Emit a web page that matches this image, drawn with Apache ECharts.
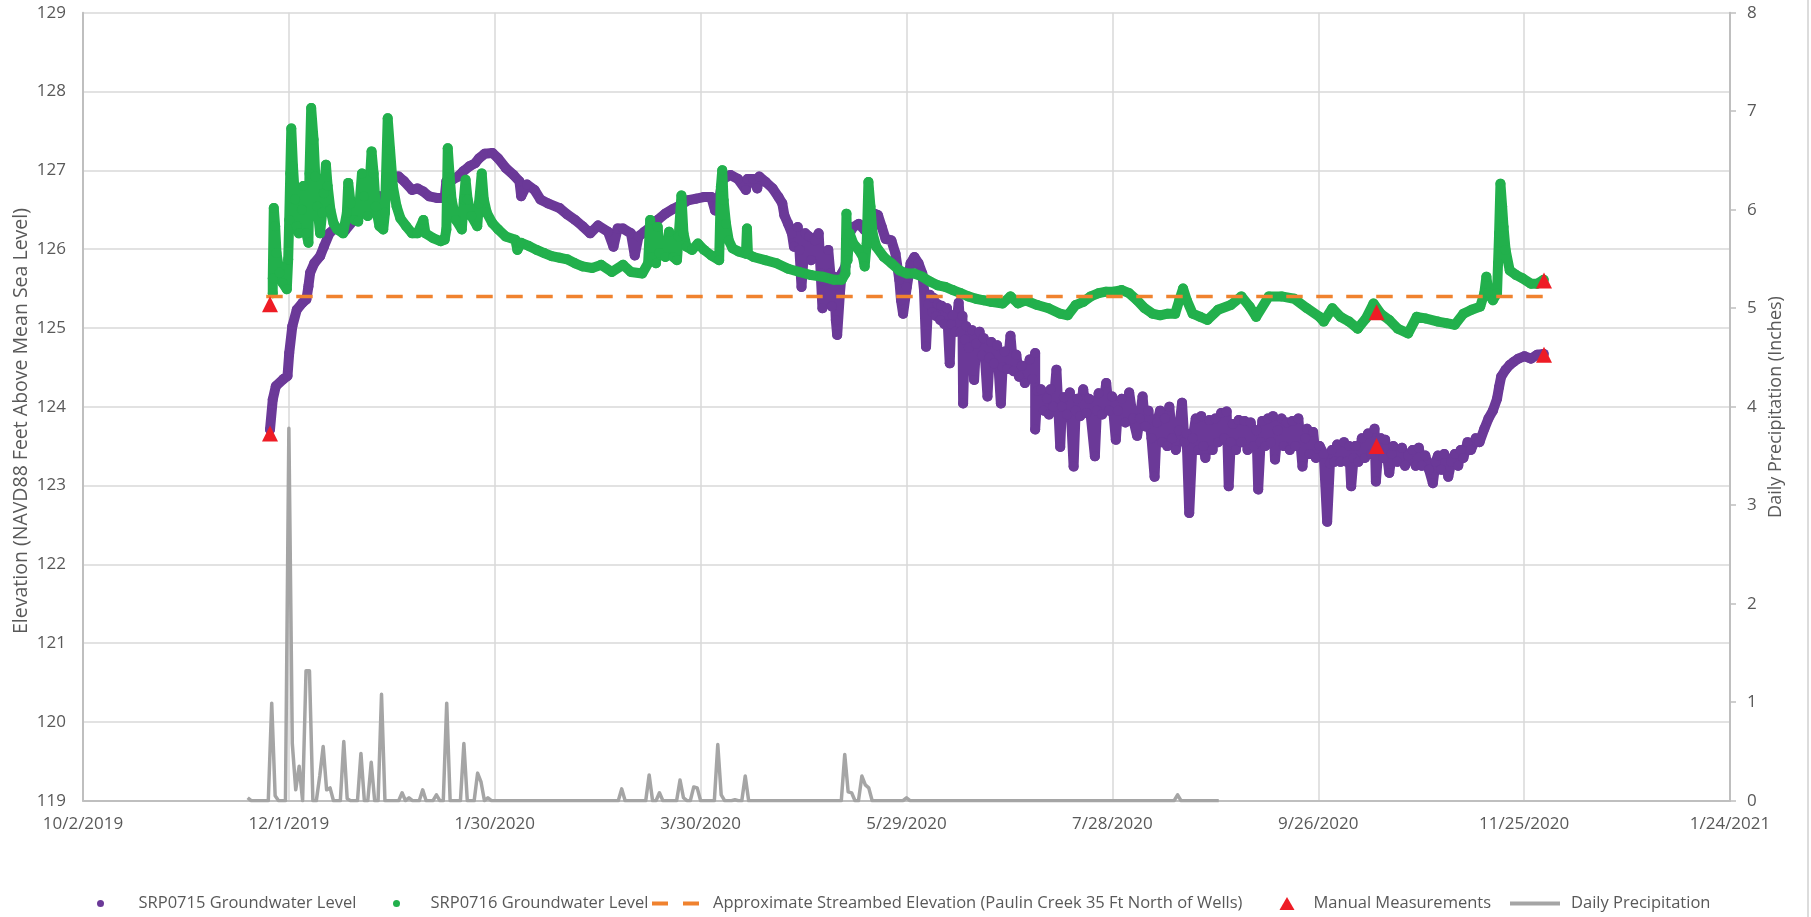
<!DOCTYPE html>
<html>
<head>
<meta charset="utf-8">
<script src="https://cdn.jsdelivr.net/npm/echarts@6/dist/echarts.min.js"></script>
<style>
html,body{margin:0;padding:0;background:#ffffff;}
#chart{width:1811px;height:917px;}
</style>
</head>
<body>
<div id="chart"></div>
<script>
// x values are days after 10/2/2019
const xTickLabels = ['10/2/2019','12/1/2019','1/30/2020','3/30/2020','5/29/2020','7/28/2020','9/26/2020','11/25/2020','1/24/2021'];
const leftTicks = [119,120,121,122,123,124,125,126,127,128,129];
const rightTicks = [0,1,2,3,4,5,6,7,8];
const leftTitle = 'Elevation (NAVD88 Feet Above Mean Sea Level)';
const rightTitle = 'Daily Precipitation (Inches)';

// SRP0715 groundwater level: [day, elevation ft]
const srp0715 = [
[54.5,123.71],[55.3,124.09],[56.2,124.26],[58.4,124.35],[59.6,124.39],[60.1,124.68],[61.0,125.02],[62.3,125.23],
[64.0,125.32],[65.1,125.36],[65.7,125.53],[66.2,125.70],[67.4,125.82],[69.1,125.91],[70.2,126.03],[71.8,126.20],
[73.5,126.27],[76.3,126.23],[78.5,126.35],[80.2,126.42],[81.9,126.54],[84.1,126.65],[86.4,126.67],[88.0,126.63],
[88.6,126.80],[90.3,126.92],[92.0,126.92],[93.6,126.86],[95.9,126.75],[97.5,126.77],[99.2,126.73],[100.9,126.67],
[103.1,126.65],[105.4,126.65],[105.9,126.86],[107.6,126.88],[109.3,126.92],[110.9,126.99],[112.6,127.05],[114.3,127.09],
[115.4,127.15],[117.1,127.21],[119.3,127.22],[121.0,127.15],[123.2,127.03],[125.5,126.94],[127.2,126.86],[127.7,126.67],
[129.4,126.82],[131.6,126.75],[133.3,126.63],[135.5,126.58],[138.9,126.52],[141.1,126.44],[143.4,126.37],[145.6,126.29],
[147.8,126.20],[150.1,126.30],[153.0,126.22],[154.6,126.03],[155.8,126.26],[157.4,126.26],[159.7,126.20],[160.8,125.92],
[161.9,126.16],[163.6,126.22],[165.3,126.28],[167.5,126.37],[169.7,126.45],[172.0,126.51],[174.2,126.56],[176.4,126.62],
[178.7,126.64],[180.9,126.66],[183.1,126.66],[184.2,126.49],[185.0,126.55],[186.5,126.89],[188.7,126.94],[190.9,126.89],
[193.2,126.75],[193.7,126.89],[195.4,126.89],[196.5,126.77],[197.1,126.92],[199.0,126.85],[201.0,126.77],[202.7,126.66],
[203.8,126.58],[204.4,126.43],[205.5,126.32],[206.6,126.20],[207.2,126.03],[208.3,126.28],[208.8,125.99],[209.4,125.52],
[210.5,126.20],[211.6,126.16],[212.2,125.86],[213.3,126.11],[214.4,126.20],[215.0,125.69],[215.5,125.25],[216.0,125.60],
[217.2,125.99],[217.8,125.69],[218.3,125.27],[218.9,125.65],[219.4,125.10],[219.8,124.91],[220.6,125.44],[221.1,125.69],
[222.2,125.78],[223.4,126.20],[224.5,126.28],[226.1,126.32],[227.8,126.24],[228.9,126.37],[230.6,126.45],[231.7,126.43],
[232.8,126.28],[233.9,126.13],[235.6,126.11],[236.8,125.94],[237.9,125.61],[238.4,125.35],[239.0,125.18],[240.1,125.52],
[241.2,125.82],[242.3,125.90],[243.5,125.82],[244.6,125.69],[245.1,125.48],[245.7,124.76],[246.3,125.30],[246.8,125.42],
[247.5,125.20],[247.9,125.38],[248.6,125.15],[249.1,125.30],[249.8,125.10],[250.2,125.28],[251.0,125.05],[251.8,125.25],
[252.6,124.55],[253.0,125.05],[253.5,125.16],[254.3,124.95],[255.2,125.32],[255.8,124.95],[256.3,125.15],[256.5,124.04],
[257.0,124.85],[257.4,125.02],[258.2,124.75],[259.1,124.97],[259.7,124.34],[260.3,124.80],[261.3,124.95],[262.0,124.65],
[262.5,124.87],[263.6,124.13],[264.2,124.62],[264.7,124.82],[265.5,124.55],[266.4,124.78],[267.5,124.04],[268.0,124.50],
[268.6,124.70],[269.4,124.48],[270.3,124.90],[271.2,124.45],[272.0,124.66],[272.8,124.38],[273.6,124.52],[274.5,124.30],
[275.9,124.60],[276.7,124.35],[277.5,124.68],[277.5,123.71],[278.2,124.20],[279.2,124.22],[280.0,123.95],[280.9,124.10],
[281.5,123.90],[282.0,124.22],[282.8,124.00],[283.7,124.47],[284.8,123.49],[285.3,124.00],[285.9,124.12],[286.8,123.90],
[287.6,124.18],[288.7,123.24],[289.3,123.95],[289.8,124.10],[290.6,123.88],[291.5,124.22],[292.4,123.92],[293.2,124.10],
[294.9,123.37],[295.5,123.95],[296.0,124.17],[297.0,123.90],[298.2,124.30],[299.0,123.95],[299.9,124.13],[301.0,123.58],
[301.6,123.95],[302.7,124.10],[303.8,123.80],[304.9,124.18],[306.0,123.85],[307.2,123.63],[308.0,123.85],[308.8,124.13],
[309.6,123.75],[310.5,123.95],[311.4,123.60],[312.3,123.11],[313.0,123.80],[313.9,123.95],[314.5,123.55],[315.3,123.85],
[316.0,123.50],[316.6,124.00],[317.4,123.60],[318.5,123.45],[319.4,123.70],[320.3,124.05],[321.0,123.55],[321.6,123.66],
[322.4,122.65],[323.4,123.60],[324.3,123.85],[325.0,123.45],[325.9,123.88],[326.5,123.50],[327.1,123.35],[328.3,123.83],
[329.2,123.45],[330.0,123.85],[330.8,123.55],[331.7,123.92],[332.6,123.60],[333.3,123.94],[333.9,122.99],[334.5,123.55],
[335.1,123.78],[336.0,123.45],[336.8,123.83],[337.6,123.55],[338.5,123.82],[339.4,123.45],[340.3,123.80],[341.2,123.50],
[342.0,123.70],[342.5,122.95],[343.2,123.55],[343.7,123.82],[344.5,123.50],[345.3,123.85],[346.2,123.55],[346.8,123.88],
[347.4,123.33],[348.2,123.70],[349.3,123.85],[350.0,123.50],[350.8,123.80],[351.7,123.45],[352.5,123.82],[353.3,123.50],
[354.2,123.85],[355.4,123.24],[356.2,123.60],[356.7,123.72],[357.5,123.40],[358.5,123.68],[359.3,123.35],[360.4,123.50],
[361.6,123.40],[362.6,122.54],[363.4,123.28],[364.0,123.45],[364.7,123.30],[365.5,123.52],[366.5,123.30],[367.5,123.55],
[368.4,123.30],[369.0,123.50],[369.6,122.99],[370.3,123.35],[370.8,123.50],[371.7,123.30],[372.7,123.60],[373.6,123.35],
[374.5,123.66],[375.4,123.40],[376.4,123.72],[376.8,123.05],[377.5,123.45],[378.2,123.60],[379.0,123.35],[379.5,123.58],
[380.7,123.16],[381.4,123.40],[381.9,123.50],[383.0,123.30],[384.4,123.48],[385.3,123.25],[386.2,123.38],[387.5,123.45],
[388.4,123.25],[389.3,123.48],[390.2,123.25],[391.2,123.38],[392.3,123.20],[393.4,123.03],[394.2,123.30],[394.9,123.38],
[395.8,123.20],[396.7,123.40],[397.9,123.11],[398.8,123.30],[399.8,123.40],[400.8,123.25],[401.5,123.45],[402.3,123.35],
[403.5,123.55],[404.5,123.45],[405.9,123.60],[407.0,123.55],[408.4,123.72],[409.6,123.85],[410.9,123.95],[412.1,124.10],
[412.7,124.25],[413.3,124.38],[414.6,124.47],[415.8,124.53],[417.0,124.57],[418.3,124.61],[420.1,124.64],[422.0,124.61],
[423.8,124.66],[425.7,124.67]
];

// SRP0716 groundwater level: [day, elevation ft]
const srp0716 = [
[55.3,125.44],[55.3,125.63],[55.6,126.52],[56.0,126.29],[56.4,125.95],[57.3,125.70],[58.2,125.57],[59.4,125.49],
[59.8,125.87],[60.1,126.37],[60.4,126.96],[60.7,127.53],[61.2,127.05],[61.8,126.63],[62.3,126.29],[62.9,126.20],
[63.8,126.50],[64.2,126.80],[65.1,126.20],[65.7,126.08],[66.0,126.96],[66.5,127.79],[67.2,127.39],[67.7,126.92],
[68.3,126.54],[69.1,126.20],[69.7,126.46],[70.2,126.71],[70.8,127.07],[71.3,126.80],[72.1,126.50],[73.0,126.33],
[74.1,126.25],[75.8,126.20],[76.9,126.46],[77.3,126.84],[78.0,126.58],[79.1,126.37],[80.2,126.35],[81.3,126.96],
[81.9,126.67],[83.0,126.42],[84.1,127.24],[84.7,126.96],[85.3,126.54],[86.4,126.29],[87.5,126.25],[88.0,126.46],
[88.8,127.66],[89.5,127.26],[90.3,126.80],[91.4,126.54],[92.5,126.39],[94.2,126.29],[95.9,126.20],[97.5,126.20],
[99.2,126.37],[99.8,126.20],[102.0,126.14],[104.2,126.10],[105.4,126.12],[105.9,126.25],[106.3,127.28],[106.8,126.96],
[107.4,126.63],[108.7,126.37],[110.4,126.25],[111.0,126.63],[111.5,126.88],[112.1,126.63],[113.2,126.42],[114.9,126.29],
[115.4,126.58],[116.2,126.96],[116.8,126.63],[117.7,126.46],[119.3,126.33],[121.0,126.25],[123.2,126.16],[126.0,126.12],
[126.6,125.99],[127.7,126.08],[129.9,126.04],[132.2,125.99],[134.4,125.95],[136.6,125.91],[138.9,125.89],[141.1,125.87],
[143.4,125.82],[145.6,125.78],[148.4,125.76],[151.0,125.80],[154.1,125.71],[157.4,125.80],[159.7,125.71],[163.0,125.69],
[164.7,125.82],[165.3,126.37],[165.8,125.90],[167.0,125.82],[167.5,126.28],[168.0,125.95],[169.7,125.90],[170.8,126.22],
[172.0,125.90],[173.1,125.86],[173.6,126.16],[174.4,126.68],[175.0,126.20],[175.9,126.03],[177.5,125.99],[179.2,126.07],
[181.0,125.99],[183.1,125.92],[185.4,125.86],[185.9,126.79],[186.3,127.00],[186.7,126.62],[187.4,126.32],[188.2,126.11],
[189.3,126.01],[191.0,125.97],[193.2,125.94],[193.5,126.26],[193.8,125.94],[195.4,125.90],[198.8,125.86],[202.1,125.82],
[205.5,125.75],[208.8,125.71],[212.2,125.67],[215.5,125.65],[218.9,125.61],[221.1,125.61],[222.2,125.69],[222.5,126.45],
[222.8,125.86],[223.4,126.20],[224.5,126.07],[226.1,125.99],[227.3,125.90],[227.8,125.78],[228.4,126.07],[228.9,126.85],
[229.5,126.54],[230.1,126.20],[231.2,126.03],[233.4,125.90],[235.6,125.82],[237.9,125.73],[240.1,125.69],[242.3,125.69],
[244.6,125.65],[246.8,125.59],[249.1,125.54],[251.3,125.52],[253.5,125.48],[255.8,125.44],[258.0,125.40],[260.2,125.37],
[262.5,125.35],[264.7,125.33],[268.0,125.31],[270.3,125.40],[272.5,125.31],[274.7,125.35],[278.1,125.29],[281.4,125.25],
[284.8,125.18],[287.0,125.16],[289.3,125.29],[291.5,125.33],[293.7,125.40],[296.0,125.44],[298.2,125.46],[300.4,125.46],
[302.7,125.48],[304.9,125.44],[307.2,125.35],[309.4,125.25],[311.7,125.18],[313.9,125.16],[316.1,125.18],[318.3,125.18],
[319.5,125.35],[320.6,125.50],[321.7,125.35],[323.4,125.18],[325.6,125.14],[327.7,125.10],[330.8,125.23],[334.5,125.29],
[337.6,125.40],[340.0,125.27],[341.9,125.14],[345.6,125.40],[349.3,125.40],[353.0,125.37],[356.7,125.25],[360.4,125.14],
[361.6,125.08],[364.1,125.25],[366.5,125.14],[369.0,125.08],[371.5,124.99],[373.9,125.12],[376.1,125.31],[378.2,125.18],
[380.7,125.10],[383.2,124.99],[386.2,124.93],[388.7,125.14],[391.2,125.12],[394.9,125.08],[397.3,125.06],[399.8,125.04],
[402.3,125.18],[404.7,125.23],[407.2,125.27],[408.4,125.44],[409.0,125.65],[409.6,125.45],[410.9,125.35],[412.1,125.44],
[412.4,125.82],[412.7,126.20],[413.1,126.83],[413.6,126.54],[414.0,126.28],[414.6,125.99],[415.8,125.73],[417.7,125.67],
[419.5,125.63],[422.0,125.56],[423.8,125.56],[425.7,125.61]
];

// Approximate streambed elevation: [day, ft]
const streambed = [[53.4,125.4],[425.5,125.4]];

// Manual measurements: [day, ft]
const manual = [[54.5,125.30],[54.5,123.66],[377.0,125.20],[377.0,123.50],[425.8,125.60],[425.8,124.66]];

// Daily precipitation: [day, inches]
const precip = [
[48,0.03],[49,0],[54,0],[55,0.99],[56,0.05],[57,0],[59,0],[60,3.78],[61,0.58],[62,0.11],[63,0.35],[64,0],
[65,1.32],[66,1.32],[67,0],[68,0],[69,0.25],[70,0.55],[71,0.11],[72,0.13],[73,0],[75,0],[76,0.60],[77,0.02],
[78,0],[80,0],[81,0.48],[82,0],[83,0],[84,0.39],[85,0],[86,0],[87,1.08],[88,0],[92,0],[93,0.08],[94,0],
[95,0.03],[96,0],[98,0],[99,0.11],[100,0],[102,0],[103,0.06],[104,0],[105,0],[106,0.99],[107,0],[110,0],
[111,0.58],[112,0],[114,0],[115,0.28],[116,0.19],[117,0],[118,0.03],[119,0],[156,0],[157,0.12],[158,0],
[164,0],[165,0.26],[166,0],[167,0],[168,0.08],[169,0],[173,0],[174,0.21],[175,0.03],[176,0],[177,0],
[178,0.14],[179,0.13],[180,0],[184,0],[185,0.57],[186,0.06],[187,0],[189,0],[190,0.01],[191,0],[192,0],
[193,0.25],[194,0],[221,0],[222,0.47],[223,0.09],[224,0.08],[225,0],[226,0],[227,0.25],[228,0.16],[229,0.13],
[230,0],[239,0],[240,0.03],[241,0],[318,0],[319,0.06],[320,0],[331,0]
];

const PURPLE = '#6B3998', GREEN = '#22B04C', ORANGE = '#F0822E', RED = '#EE1C25', GRAY = '#A5A5A5';
const TXT = '#595959', FONT = 'Open Sans';

const chart = echarts.init(document.getElementById('chart'), null, {renderer: 'canvas'});
const legendText = {color: TXT, fontFamily: FONT, fontSize: 16.5};

chart.setOption({
  animation: false,
  backgroundColor: '#ffffff',
  grid: {left: 83, right: 81, top: 12.7, bottom: 116.3, containLabel: false},
  graphic: [
    {type: 'line', shape: {x1: 1808, y1: 0, x2: 1808, y2: 917}, style: {stroke: '#D0D0D0', lineWidth: 1.5}},
    {type: 'text', x: 21, y: 421, rotation: Math.PI / 2,
      style: {text: leftTitle, fill: TXT, font: '19.5px "Open Sans"', align: 'center', verticalAlign: 'middle'}},
    {type: 'text', x: 1776, y: 407, rotation: Math.PI / 2,
      style: {text: rightTitle, fill: TXT, font: '18px "Open Sans"', align: 'center', verticalAlign: 'middle'}}
  ],
  legend: [
    {data: ['SRP0715 Groundwater Level'], left: 97, top: 895, padding: 0, icon: 'circle', itemWidth: 58, itemHeight: 7,
      textStyle: Object.assign({}, legendText, {padding: [0, 0, 0, 4]})},
    {data: ['SRP0716 Groundwater Level'], left: 393, top: 895, padding: 0, icon: 'circle', itemWidth: 58, itemHeight: 7, textStyle: legendText},
    {data: ['Approximate Streambed Elevation (Paulin Creek 35 Ft North of Wells)'], left: 652, top: 895, padding: 0,
      icon: 'path://M0,0h16v4h-16z M31,0h16v4h-16z', itemWidth: 47, itemHeight: 4,
      textStyle: Object.assign({}, legendText, {padding: [0, 0, 0, 9]})},
    {data: ['Manual Measurements'], left: 1279.5, top: 895, padding: 0, icon: 'triangle', itemWidth: 15, itemHeight: 13,
      textStyle: Object.assign({}, legendText, {padding: [0, 0, 0, 14]})},
    {data: ['Daily Precipitation'], left: 1510, top: 895, padding: 0,
      icon: 'path://M0,0h50v4h-50z', itemWidth: 50, itemHeight: 4,
      textStyle: Object.assign({}, legendText, {padding: [0, 0, 0, 6]})}
  ],
  xAxis: {
    type: 'value', min: 0, max: 480, interval: 60,
    axisLine: {show: true, onZero: false, lineStyle: {color: '#BFBFBF', width: 2}},
    axisTick: {show: false},
    splitLine: {show: true, lineStyle: {color: '#D9D9D9', width: 1.5}},
    axisLabel: {color: TXT, fontFamily: FONT, fontSize: 17, margin: 15, showMinLabel: true, showMaxLabel: true,
      formatter: v => xTickLabels[Math.round(v / 60)]}
  },
  yAxis: [
    {
      type: 'value', min: leftTicks[0], max: leftTicks[leftTicks.length - 1], interval: 1, position: 'left',
      axisLine: {show: true, lineStyle: {color: '#BFBFBF', width: 2}},
      axisTick: {show: false},
      splitLine: {show: true, lineStyle: {color: '#D9D9D9', width: 1.5}},
      axisLabel: {color: TXT, fontFamily: FONT, fontSize: 17, margin: 17}
    },
    {
      type: 'value', min: rightTicks[0], max: rightTicks[rightTicks.length - 1], interval: 1, position: 'right',
      axisLine: {show: true, lineStyle: {color: '#BFBFBF', width: 2}},
      axisTick: {show: true, length: 6, lineStyle: {color: '#BFBFBF', width: 1.5}},
      splitLine: {show: false},
      axisLabel: {color: TXT, fontFamily: FONT, fontSize: 17, margin: 17}
    }
  ],
  series: [
    {
      name: 'SRP0715 Groundwater Level', type: 'line', data: srp0715, yAxisIndex: 0,
      symbol: 'circle', symbolSize: 10, showSymbol: true, showAllSymbol: true,
      lineStyle: {color: PURPLE, width: 10, cap: 'round', join: 'round'}, itemStyle: {color: PURPLE}, z: 3
    },
    {
      name: 'SRP0716 Groundwater Level', type: 'line', data: srp0716, yAxisIndex: 0,
      symbol: 'circle', symbolSize: 10, showSymbol: true, showAllSymbol: true,
      lineStyle: {color: GREEN, width: 10, cap: 'round', join: 'round'}, itemStyle: {color: GREEN}, z: 4
    },
    {
      name: 'Approximate Streambed Elevation (Paulin Creek 35 Ft North of Wells)', type: 'line', data: streambed, yAxisIndex: 0,
      symbol: 'none', lineStyle: {color: ORANGE, width: 3.5, type: [16.5, 13.5]}, itemStyle: {color: ORANGE}, z: 5
    },
    {
      name: 'Manual Measurements', type: 'scatter', data: manual, yAxisIndex: 0,
      symbol: 'triangle', symbolSize: 16, itemStyle: {color: RED, opacity: 1}, z: 6
    },
    {
      name: 'Daily Precipitation', type: 'line', data: precip, yAxisIndex: 1,
      symbol: 'none', lineStyle: {color: GRAY, width: 3.5, join: 'round'}, itemStyle: {color: GRAY}, z: 2
    }
  ]
});
</script>
</body>
</html>
